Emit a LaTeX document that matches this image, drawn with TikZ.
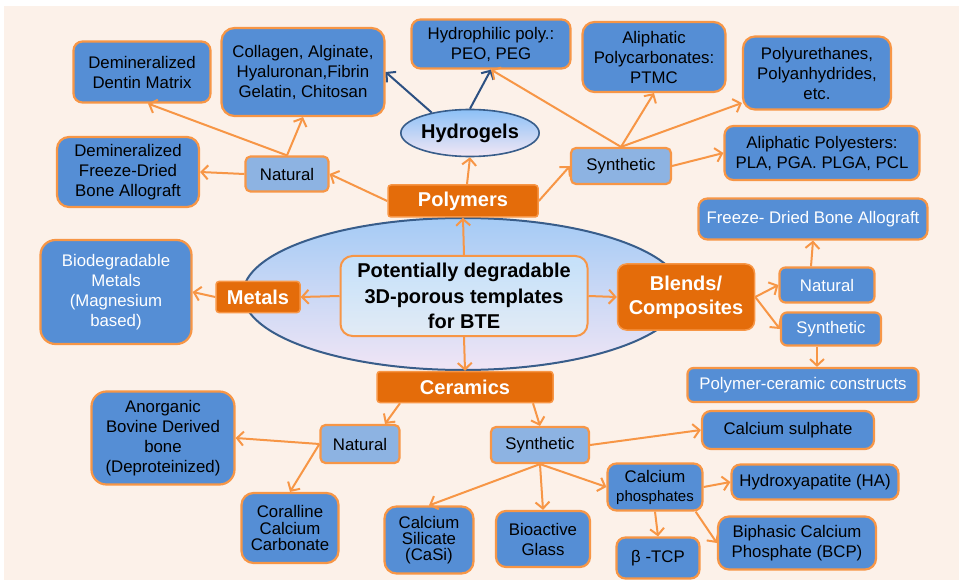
\documentclass[tikz,border=0pt]{standalone}
\usepackage{fontspec}
\setmainfont{Liberation Sans}
\usetikzlibrary{shapes.geometric,arrows.meta}
\definecolor{cream}{RGB}{252,241,233}
\definecolor{dblue}{RGB}{85,142,213}
\definecolor{lblue}{RGB}{141,179,226}
\definecolor{orng}{RGB}{247,150,70}
\definecolor{dorng}{RGB}{228,108,10}
\definecolor{navy}{RGB}{44,80,130}
\definecolor{ellbord}{RGB}{56,93,138}
\begin{document}
\begin{tikzpicture}[x=1pt,y=-1pt,
  sz/.style 2 args={minimum width=#1pt, minimum height=#2pt},
  base/.style={rounded corners=9pt, draw=orng, line width=2.2pt, align=center, inner sep=0pt, font=\fontsize{16.8}{20}\selectfont},
  dbox/.style={base, fill=dblue, text=black},
  wbox/.style={base, fill=dblue, text=white},
  lbox/.style={base, fill=lblue, text=black, rounded corners=5pt},
  cat/.style={rounded corners=3pt, fill=dorng, draw=orng, line width=1.5pt, text=white, font=\fontsize{20}{24}\selectfont\bfseries, align=center, inner sep=0pt},
  arr/.style={draw=orng, line width=2pt, -{Straight Barb[length=6.5pt,width=14pt]}},
  narr/.style={draw=navy, line width=2pt, -{Straight Barb[length=6.5pt,width=14pt]}}
]
\useasboundingbox (0,0) rectangle (959,580);
\fill[white] (0,0) rectangle (959,580);
\fill[cream] (4,6) rectangle (959,580);

% big ellipse
\node[ellipse, draw=ellbord, line width=2pt, sz={440}{152}, top color={rgb,255:red,165;green,203;blue,245}, middle color={rgb,255:red,118;green,183;blue,248}, bottom color={rgb,255:red,240;green,229;blue,245}] (ell) at (463,294) {};

% Polymers branch
\node[dbox, sz={137}{61}] (dentin) at (142,72) {Demineralized\\Dentin Matrix};
\node[dbox, sz={163}{88}, rounded corners=13pt] (coll) at (303,72) {Collagen, Alginate,\\Hyaluronan,Fibrin\\Gelatin, Chitosan};
\node[dbox, sz={142}{70}, rounded corners=12pt] (fd) at (128,172) {Demineralized\\Freeze-Dried\\Bone Allograft};
\node[lbox, sz={83}{35}] (nat1) at (287,174) {Natural};
\node[ellipse, draw=ellbord, line width=1.6pt, sz={135}{47}, top color={rgb,255:red,140;green,192;blue,246}, middle color={rgb,255:red,185;green,214;blue,246}, bottom color={rgb,255:red,242;green,231;blue,245}, font=\fontsize{20}{24}\selectfont\bfseries, inner sep=0pt] (hydro) at (470,133) {Hydrogels};
\node[cat, sz={150}{32}] (poly) at (463,201) {Polymers};
\node[dbox, sz={159}{49}] (hphil) at (491,44) {Hydrophilic poly.:\\PEO, PEG};
\node[dbox, sz={143}{70}, rounded corners=12pt] (pcarb) at (654,57) {Aliphatic\\Polycarbonates:\\PTMC};
\node[dbox, sz={148}{73}, rounded corners=12pt] (pu) at (817,73) {Polyurethanes,\\Polyanhydrides,\\etc.};
\node[dbox, sz={195}{54}] (pe) at (822,153) {Aliphatic Polyesters:\\PLA, PGA. PLGA, PCL};
\node[lbox, sz={100}{36}] (syn1) at (621,166) {Synthetic};

% Blends branch
\node[wbox, sz={229}{41}] (fdba) at (813,219) {Freeze- Dried Bone Allograft};
\node[wbox, sz={95}{35}, rounded corners=6pt] (nat2) at (827,285) {Natural};
\node[wbox, sz={100}{33}, rounded corners=6pt] (syn2) at (831,329) {Synthetic};
\node[wbox, sz={231}{34}, rounded corners=6pt] (pcc) at (803,385) {Polymer-ceramic constructs};
\node[cat, sz={137}{66}, rounded corners=9pt] (blends) at (686,297) {Blends/\\Composites};

% centre
\node[draw=orng, line width=2pt, rounded corners=12pt, sz={247}{80}, top color={rgb,255:red,196;green,224;blue,250}, bottom color={rgb,255:red,226;green,235;blue,245}, align=center, inner sep=0pt, font=\fontsize{20}{25.5}\selectfont\bfseries] (ctr) at (464,296) {Potentially degradable\\3D-porous templates\\for BTE};

% Metals
\node[cat, sz={84}{31}] (metals) at (258,297) {Metals};
\node[wbox, sz={151}{104}, rounded corners=15pt] (bio) at (116,292) {Biodegradable\\Metals\\(Magnesium\\based)};

% Ceramics
\node[cat, sz={176}{31}] (cer) at (465,387) {Ceramics};
\node[lbox, sz={79}{38}] (nat3) at (360,444) {Natural};
\node[dbox, sz={143}{93}, rounded corners=15pt] (ano) at (163,438) {Anorganic\\Bovine Derived\\bone\\(Deproteinized)};
\node[dbox, sz={97}{70}, rounded corners=12pt, font=\fontsize{16.8}{16.3}\selectfont] (cor) at (290,528) {Coralline\\Calcium\\Carbonate};
\node[dbox, sz={89}{67}, rounded corners=12pt, font=\fontsize{16.8}{16}\selectfont] (sil) at (429,540) {Calcium\\Silicate\\(CaSi)};
\node[lbox, sz={98}{36}] (syn3) at (540,445) {Synthetic};
\node[dbox, sz={172}{38}] (cs) at (788,430) {Calcium sulphate};
\node[dbox, sz={95}{47}, font=\fontsize{16.8}{19}\selectfont] (cp) at (655,487) {Calcium\\{\fontsize{15}{19}\selectfont phosphates}};
\node[dbox, sz={167}{35}] (ha) at (815,482) {Hydroxyapatite (HA)};
\node[dbox, sz={158}{53}, rounded corners=11pt] (bcp) at (797,543) {Biphasic Calcium\\Phosphate (BCP)};
\node[dbox, sz={94}{56}, rounded corners=10pt] (bg) at (543,539) {Bioactive\\Glass};
\node[dbox, sz={83}{41}] (tcp) at (658,558) {β -TCP};

% connectors from centre
\draw[arr] (ctr.north) -- (poly.south);
\draw[arr] (ctr.west) -- (metals.east);
\draw[arr] (ctr.east) -- (blends.west);
\draw[arr] (ctr.south) -- (cer.north);

% polymers
\draw[arr] (poly.west) -- (nat1.east);
\draw[arr] ([xshift=4pt]poly.north) -- (hydro.south);
\draw[arr] (poly.east) -- (syn1.west);
\draw[arr] (nat1.north) -- ([xshift=6pt]dentin.south);
\draw[arr] (nat1.north) -- (coll.south);
\draw[arr] (nat1.west) -- (fd.east);
\draw[narr] (hydro.152) -- (coll.east);
\draw[narr] (hydro.north) -- (hphil.south);
\draw[arr] (syn1.north) -- (hphil.south);
\draw[arr] (syn1.north) -- (pcarb.south);
\draw[arr] (syn1.north) -- ([yshift=-30pt]pu.west);
\draw[arr] (syn1.east) -- (pe.west);

% metals
\draw[arr] (metals.west) -- (bio.east);

% blends
\draw[arr] (blends.east) -- (nat2.west);
\draw[arr] (blends.east) -- (syn2.west);
\draw[arr] ([xshift=-16pt]nat2.north) -- (fdba.south);
\draw[arr] ([xshift=-14pt]syn2.south) -- ([xshift=14pt]pcc.north);

% ceramics
\draw[arr] ([xshift=-65pt]cer.south) -- ([xshift=25pt]nat3.north);
\draw[arr] ([xshift=68pt]cer.south) -- (syn3.north);
\draw[arr] (nat3.west) -- (ano.east);
\draw[arr] (nat3.west) -- (cor.north);
\draw[arr] (syn3.east) -- (cs.west);
\draw[arr] (syn3.south) -- (sil.north);
\draw[arr] (syn3.south) -- (bg.north);
\draw[arr] (syn3.south) -- (cp.west);
\draw[arr] (cp.east) -- (ha.west);
\draw[arr] (cp.south) -- (tcp.north);
\draw[arr] ([xshift=-8pt]cp.south east) -- (bcp.west);
\end{tikzpicture}
\end{document}
